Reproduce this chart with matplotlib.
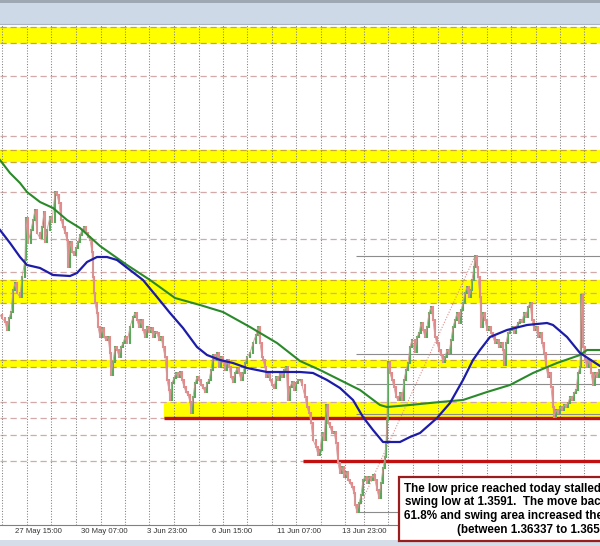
import matplotlib.pyplot as plt
from matplotlib.patches import Rectangle

# price path: bar index -> close
bars = [0, 2, 5, 7, 9, 11, 13, 15, 17, 20, 22, 25, 26, 28, 31, 33, 35, 37, 40, 42,
        44, 45, 47, 50, 52, 55, 57, 59, 61, 63, 65, 67, 68, 70, 72, 74, 76, 78, 80, 82,
        84, 86, 88, 90, 92, 93, 94, 95, 97, 98, 100, 102, 104, 106, 108, 110, 111, 113, 115, 117,
        119, 121, 123, 125, 127, 130, 133, 135, 137, 139, 141, 143, 145, 147, 149, 151, 153, 155, 157, 159,
        161, 163, 165, 167, 169, 170, 172, 174, 176, 178, 180, 182, 184, 186, 188, 190, 191, 193, 195, 197,
        199, 201, 203, 205, 207, 209, 211, 213, 215, 217, 219, 221, 223, 225, 227, 229, 231, 233, 235, 237,
        239, 241, 243, 245, 247, 250, 253, 256, 258, 260, 262, 263, 265, 266, 268, 270, 272, 274, 276, 278,
        280, 282, 284, 286, 288, 290, 292, 294, 296, 298, 300, 302, 305, 307, 309, 311, 313, 316, 318, 320,
        322, 324, 326, 328, 330, 332, 334, 336, 338, 340, 342, 344, 346, 348, 350, 352, 354, 355, 357, 359,
        361, 363, 365, 367, 369, 371, 373, 375, 377, 379, 381, 383, 385, 386, 387, 388, 390, 392, 394, 396,
        398, 400, 402, 404, 406, 408, 410, 412, 415, 417, 419, 421, 423, 425, 427, 429, 431, 433, 435, 437,
        439, 441, 443, 445, 447, 449, 451, 453, 455, 457, 459, 461, 463, 465, 467, 469, 471, 472, 474, 475,
        477, 478, 480, 481, 483, 485, 487, 489, 491, 493, 495, 497, 499, 501, 503, 504, 506, 508, 510, 512,
        514, 516, 518, 520, 522, 524, 526, 528, 530, 532, 534, 536, 538, 540, 542, 544, 546, 548, 550, 551,
        553, 554, 556, 558, 560, 562, 564, 566, 568, 570, 572, 574, 576, 578, 580, 581, 583, 585, 587, 589,
        591, 593, 595, 597, 599]
closes = [1.3737, 1.3734, 1.3730, 1.3722, 1.3734, 1.3740, 1.3762, 1.3769, 1.3759, 1.3755,
          1.3775, 1.3792, 1.3834, 1.3809, 1.3822, 1.3832, 1.3842, 1.3819, 1.3814, 1.3825,
          1.3840, 1.3810, 1.3822, 1.3835, 1.3830, 1.3860, 1.3857, 1.3849, 1.3832, 1.3825,
          1.3819, 1.3812, 1.3785, 1.3810, 1.3800, 1.3797, 1.3804, 1.3810, 1.3817, 1.3822,
          1.3825, 1.3819, 1.3815, 1.3812, 1.3800, 1.3775, 1.3759, 1.3749, 1.3739, 1.3725,
          1.3715, 1.3724, 1.3715, 1.3712, 1.3715, 1.3699, 1.3677, 1.3690, 1.3705, 1.3702,
          1.3695, 1.3705, 1.3709, 1.3715, 1.3709, 1.3725, 1.3735, 1.3739, 1.3732, 1.3725,
          1.3732, 1.3722, 1.3715, 1.3725, 1.3720, 1.3724, 1.3715, 1.3720, 1.3719, 1.3712,
          1.3715, 1.3705, 1.3695, 1.3672, 1.3662, 1.3652, 1.3669, 1.3674, 1.3679, 1.3675,
          1.3680, 1.3672, 1.3665, 1.3660, 1.3657, 1.3650, 1.3639, 1.3655, 1.3669, 1.3675,
          1.3672, 1.3667, 1.3664, 1.3660, 1.3669, 1.3672, 1.3682, 1.3697, 1.3692, 1.3699,
          1.3685, 1.3695, 1.3690, 1.3682, 1.3692, 1.3685, 1.3675, 1.3670, 1.3679, 1.3684,
          1.3679, 1.3672, 1.3679, 1.3689, 1.3695, 1.3699, 1.3709, 1.3717, 1.3725, 1.3709,
          1.3695, 1.3692, 1.3685, 1.3675, 1.3679, 1.3672, 1.3667, 1.3664, 1.3675, 1.3672,
          1.3679, 1.3675, 1.3682, 1.3685, 1.3652, 1.3665, 1.3670, 1.3662, 1.3669, 1.3672,
          1.3672, 1.3667, 1.3655, 1.3645, 1.3639, 1.3629, 1.3612, 1.3605, 1.3597, 1.3602,
          1.3619, 1.3612, 1.3647, 1.3629, 1.3625, 1.3619, 1.3620, 1.3609, 1.3589, 1.3579,
          1.3585, 1.3575, 1.3580, 1.3572, 1.3569, 1.3565, 1.3559, 1.3547, 1.3540, 1.3549,
          1.3557, 1.3572, 1.3575, 1.3569, 1.3575, 1.3572, 1.3577, 1.3572, 1.3562, 1.3554,
          1.3569, 1.3584, 1.3595, 1.3609, 1.3632, 1.3690, 1.3679, 1.3672, 1.3665, 1.3655,
          1.3652, 1.3659, 1.3652, 1.3672, 1.3682, 1.3689, 1.3705, 1.3712, 1.3700, 1.3715,
          1.3719, 1.3729, 1.3722, 1.3715, 1.3725, 1.3739, 1.3745, 1.3732, 1.3715, 1.3709,
          1.3702, 1.3697, 1.3690, 1.3695, 1.3702, 1.3699, 1.3712, 1.3725, 1.3732, 1.3739,
          1.3729, 1.3742, 1.3749, 1.3759, 1.3765, 1.3755, 1.3762, 1.3772, 1.3785, 1.3796,
          1.3785, 1.3775, 1.3755, 1.3725, 1.3739, 1.3732, 1.3722, 1.3725, 1.3719, 1.3715,
          1.3709, 1.3712, 1.3705, 1.3709, 1.3702, 1.3687, 1.3709, 1.3719, 1.3722, 1.3725,
          1.3719, 1.3725, 1.3729, 1.3732, 1.3730, 1.3739, 1.3735, 1.3745, 1.3749, 1.3732,
          1.3722, 1.3725, 1.3715, 1.3719, 1.3709, 1.3699, 1.3685, 1.3675, 1.3679, 1.3665,
          1.3645, 1.3635, 1.3642, 1.3639, 1.3645, 1.3642, 1.3647, 1.3645, 1.3649, 1.3655,
          1.3652, 1.3659, 1.3662, 1.3679, 1.3685, 1.3757, 1.3705, 1.3692, 1.3685, 1.3692,
          1.3679, 1.3667, 1.3679, 1.3675, 1.3682]

# moving averages
blue_bars = [0, 10, 20, 27, 40, 53, 70, 77, 87, 97, 107, 117, 130, 143, 157, 170, 183, 197, 207, 220,
             233, 247, 267, 300, 313, 327, 340, 353, 363, 373, 383, 400, 410, 420, 437, 450, 463, 473, 480, 490,
             507, 527, 547, 553, 567, 580, 600]
blue_ma = [1.3822, 1.3809, 1.3795, 1.3787, 1.3784, 1.3777, 1.3776, 1.3779, 1.3790, 1.3795,
           1.3795, 1.3792, 1.3782, 1.3772, 1.3755, 1.3739, 1.3724, 1.3705, 1.3697, 1.3692,
           1.3689, 1.3684, 1.3680, 1.3680, 1.3679, 1.3672, 1.3664, 1.3652, 1.3635, 1.3622,
           1.3610, 1.3610, 1.3615, 1.3619, 1.3634, 1.3649, 1.3672, 1.3692, 1.3702, 1.3715,
           1.3722, 1.3727, 1.3729, 1.3727, 1.3715, 1.3699, 1.3686]
green_bars = [0, 10, 20, 27, 40, 53, 67, 80, 90, 100, 127, 150, 175, 200, 223, 250, 277, 300, 320, 340,
              360, 380, 387, 410, 440, 463, 487, 510, 533, 557, 580, 587, 600]
green_ma = [1.3892, 1.3879, 1.3869, 1.3860, 1.3850, 1.3844, 1.3832, 1.3824, 1.3815, 1.3806,
            1.3787, 1.3772, 1.3754, 1.3747, 1.3740, 1.3725, 1.3709, 1.3691, 1.3682, 1.3672,
            1.3662, 1.3647, 1.3645, 1.3647, 1.3650, 1.3652, 1.3660, 1.3667, 1.3679, 1.3689,
            1.3697, 1.3702, 1.3702]

# drawn levels
yellow_zones = [(1.4009, 1.4025), (1.38905, 1.39025), (1.3749, 1.3772), (1.3685, 1.36925)]
support_zone = (1.36337, 1.3650)
dash_levels = [1.3976, 1.39163, 1.38603, 1.3813, 1.37803, 1.37587, 1.3650, 1.36337, 1.3617, 1.3591]
red_levels = [1.36337, 1.3591]
red_from = [164, 303]
swing_high, swing_high_bar = 1.3796, 475
swing_low, swing_low_bar = 1.3540, 357
fib_ratios = [0.0, 0.382, 0.5, 0.618, 1.0]

grid_bars = [1.7, 26.7, 51, 76, 100.7, 125, 149.3, 173.7, 198.7, 222.7, 247.3, 271.7, 296,
             320.7, 345, 364, 388, 413, 437.7, 462, 486.7, 511, 535.7, 560, 584.3]
tick_bars = [38.5, 104, 166.7, 231.7, 299, 364]
tick_labels = ['27 May 15:00', '30 May 07:00', '3 Jun 23:00', '6 Jun 15:00',
               '11 Jun 07:00', '13 Jun 23:00']

note_lines = ['The low price reached today stalled',
              'swing low at 1.3591.  The move back',
              '61.8% and swing area increased the',
              '(between 1.36337 to 1.3650)']

W, H = 600, 546
fig = plt.figure(figsize=(W / 100, H / 100), dpi=100)
fig.patch.set_facecolor('white')
ax = fig.add_axes([0, 21 / H, 1, 500 / H])
ax.set_xlim(0, 600)
ax.set_ylim(1.3527, 1.4027)

# zones
for lo, hi in yellow_zones:
    ax.axhspan(lo, hi, color='#ffff00', zorder=1, lw=0)
    ax.axhline(lo, color='#c8a830', lw=0.9, ls=(0, (5, 3)), zorder=2)
    ax.axhline(hi, color='#c8a830', lw=0.9, ls=(0, (5, 3)), zorder=2)
ax.fill_between([red_from[0], 600], support_zone[0], support_zone[1], color='#ffff00', lw=0, zorder=1)

# grid
for lv in dash_levels:
    ax.axhline(lv, color='#d3a9a9', lw=0.9, ls=(0, (5, 3)), zorder=2)
for gx in grid_bars:
    ax.axvline(gx, color='#808080', lw=0.75, ls=(0, (1, 1.6)), zorder=2)

# fib retracement
rng = swing_high - swing_low
for r in fib_ratios:
    ax.hlines(swing_high - r * rng, swing_low_bar - 1, 600, color='#8c8c8c', lw=0.8, zorder=3)
ax.plot([swing_low_bar, swing_high_bar], [swing_low, swing_high], color='#e08a8a',
        lw=0.8, ls=(0, (1, 1.5)), zorder=3)

# red lines
for lv, x0 in zip(red_levels, red_from):
    ax.hlines(lv, x0, 600, color='#c01010', lw=2.4, zorder=3)

# candles
for i in range(1, len(bars)):
    c0, c1 = closes[i - 1], closes[i]
    col = '#5aa85a' if c1 >= c0 else '#e48a8a'
    ax.vlines(bars[i], min(c0, c1) - 0.00006, max(c0, c1) + 0.00006, color=col, lw=1.5, zorder=4)
ax.plot(bars, closes, color='#d49a9a', lw=0.6, zorder=4)

# moving averages
ax.plot(green_bars, green_ma, color='#2a8a2a', lw=1.5, zorder=5)
ax.plot(blue_bars, blue_ma, color='#1c1ca8', lw=1.6, zorder=5)

# axes look
for s in ['top', 'left', 'right']:
    ax.spines[s].set_visible(False)
ax.spines['bottom'].set_color('#808080')
ax.spines['bottom'].set_linewidth(0.8)
ax.set_yticks([])
ax.set_xticks(tick_bars)
ax.set_xticklabels(tick_labels, fontsize=5.6, family='Liberation Sans', color='#333333')
ax.tick_params(axis='x', length=0, pad=2.5)

# toolbar strip on top and status bar at bottom
fig.add_artist(Rectangle((0, 1 - 24 / H), 1, 24 / H, transform=fig.transFigure,
                         facecolor='#cdd9e6', edgecolor='none'))
fig.add_artist(Rectangle((0, 1 - 3 / H), 1, 3 / H, transform=fig.transFigure,
                         facecolor='#9ea8b2', edgecolor='none'))
fig.add_artist(plt.Line2D([0, 1], [1 - 24 / H, 1 - 24 / H], transform=fig.transFigure,
                          color='#a8b4c0', lw=0.8))
fig.add_artist(Rectangle((0, 0), 1, 6 / H, transform=fig.transFigure,
                         facecolor='#d4dde8', edgecolor='none'))

# note box (runs off the right edge, as in the screenshot)
fig.add_artist(Rectangle((399 / W, 5 / H), 230 / W, 64 / H, transform=fig.transFigure,
                         facecolor='white', edgecolor='#9b1c1c', lw=1.6, zorder=10))
line_y = [489, 502.5, 516, 530]
line_x = [404, 405, 404, 457]
for txt, lx, ly in zip(note_lines, line_x, line_y):
    fig.text(lx / W, 1 - ly / H, txt, fontsize=8.4, fontweight='bold', family='Liberation Sans',
             color='black', va='center', ha='left', zorder=11)

fig.savefig('out.png', dpi=100)
